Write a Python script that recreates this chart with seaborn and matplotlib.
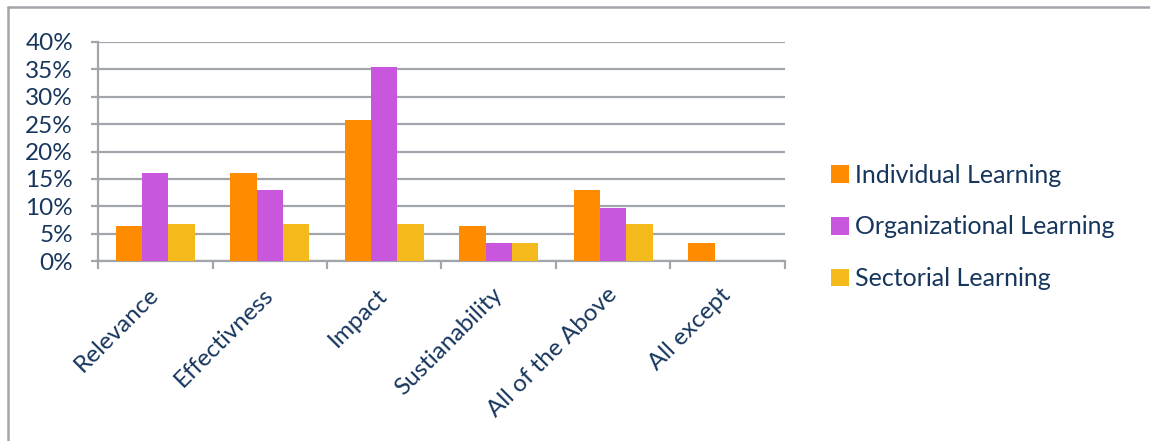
import matplotlib
matplotlib.use("Agg")
import matplotlib.pyplot as plt
from matplotlib.lines import Line2D
from matplotlib.ticker import FixedLocator, PercentFormatter
import pandas as pd
import seaborn as sns

# Survey shares per evaluation criterion
categories = ["Relevance", "Effectivness", "Impact", "Sustianability",
              "All of the Above", "All except"]
individual = [6.45, 16.13, 25.81, 6.45, 12.90, 3.23]
organizational = [16.13, 12.90, 35.48, 3.23, 9.68, 0.0]
sectorial = [6.67, 6.67, 6.67, 3.33, 6.67, 0.0]
series_names = ["Individual Learning", "Organizational Learning", "Sectorial Learning"]
y_ticks = [0, 5, 10, 15, 20, 25, 30, 35, 40]

colors = ["#FF8C00", "#C857DE", "#F4BA1B"]
grid_c = "#A2A5AB"
text_c = "#17365D"

df = pd.DataFrame({
    "category": categories * 3,
    "series": [s for s in series_names for _ in categories],
    "value": individual + organizational + sectorial,
})

sns.set_theme(style="white")
plt.rcParams["font.family"] = ["Lato", "DejaVu Sans"]

W, H = 1150, 441
fig = plt.figure(figsize=(W / 100, H / 100), dpi=100)
ax = fig.add_axes([98 / W, 1 - 261 / H, (785 - 98) / W, (261 - 42) / H])

sns.barplot(data=df, x="category", y="value", hue="series", order=categories,
            hue_order=series_names, palette=colors, width=0.69, ax=ax,
            saturation=1, legend=False, zorder=3, linewidth=0)

ax.set_xlim(-0.5, len(categories) - 0.5)
ax.set_ylim(0, 40)
ax.yaxis.set_major_locator(FixedLocator(y_ticks))
ax.yaxis.set_major_formatter(PercentFormatter(decimals=0))
ax.yaxis.grid(True, color=grid_c, linewidth=1.6, zorder=0)
ax.set_axisbelow(True)
ax.set_xlabel("")
ax.set_ylabel("")

# Ticks on category boundaries, labels at centres
ax.set_xticks([i - 0.5 for i in range(len(categories) + 1)])
ax.set_xticklabels([])
ax.set_xticks(range(len(categories)), minor=True)
ax.set_xticklabels(categories, minor=True, rotation=45, ha="right",
                   va="center", rotation_mode="anchor", fontsize=17.5, color=text_c)
ax.tick_params(axis="x", which="major", length=6, width=1.6, color=grid_c,
               bottom=True, direction="out")
ax.tick_params(axis="x", which="minor", length=0, pad=22)
ax.tick_params(axis="y", which="major", length=5, width=1.6, color=grid_c,
               left=True, pad=13, labelsize=17.5, labelcolor=text_c)

for side in ("top", "right"):
    ax.spines[side].set_visible(False)
for side in ("left", "bottom"):
    ax.spines[side].set_color(grid_c)
    ax.spines[side].set_linewidth(1.6)

handles = [plt.Rectangle((0, 0), 1, 1, facecolor=c, edgecolor="none") for c in colors]
fig.legend(handles, series_names, loc="center left",
           bbox_to_anchor=(831 / W, 1 - 227 / H), frameon=False, fontsize=18,
           labelcolor=text_c, handlelength=0.72, handleheight=0.72,
           handletextpad=0.25, labelspacing=1.15, borderpad=0, borderaxespad=0)

# Outer chart frame (top and left edges)
fig.add_artist(Line2D([7.5 / W, 7.5 / W], [0, 1 - 7 / H], transform=fig.transFigure,
                      color=grid_c, linewidth=1.8))
fig.add_artist(Line2D([7.5 / W, 1], [1 - 7 / H, 1 - 7 / H], transform=fig.transFigure,
                      color=grid_c, linewidth=1.8))

fig.savefig("out.png", dpi=100)
